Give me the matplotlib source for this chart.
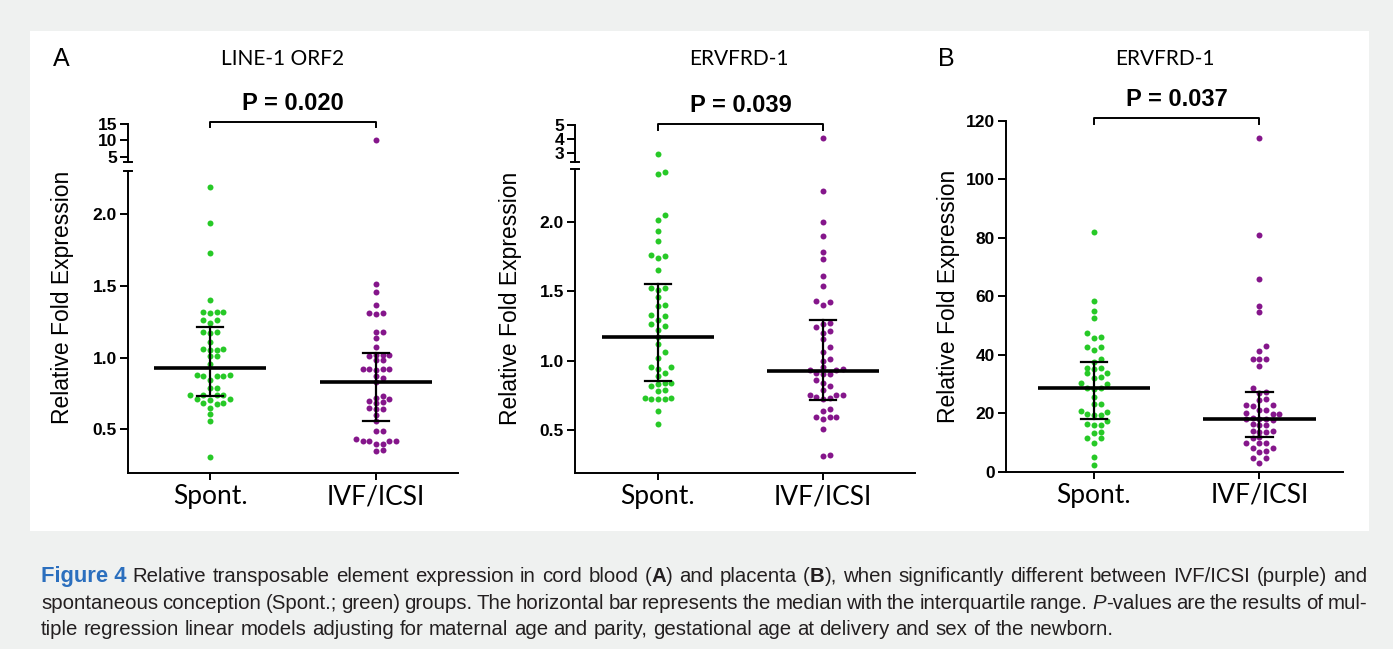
import matplotlib
matplotlib.use("Agg")
import matplotlib.pyplot as plt
from matplotlib.lines import Line2D
from matplotlib.patches import Rectangle
from matplotlib.transforms import blended_transform_factory

W, H, DPI = 1393, 649, 100

groups = ["Spont.", "IVF/ICSI"]

# --- A: cord blood, LINE-1 ORF2 ---
a1_spont = [2.19, 1.94, 1.725, 1.40, 1.32, 1.31, 1.32, 1.315, 1.26, 1.26, 1.24, 1.18, 1.18,
            1.17, 1.11, 1.06, 1.055, 1.06, 1.05, 1.01, 1.01, 0.955, 0.875, 0.87, 0.875, 0.87,
            0.87, 0.845, 0.785, 0.785, 0.74, 0.74, 0.74, 0.74, 0.71, 0.705, 0.71, 0.68, 0.675,
            0.68, 0.645, 0.605, 0.56, 0.31]
a1_ivf = [10.0, 1.515, 1.46, 1.366, 1.31, 1.30, 1.31, 1.18, 1.18, 1.136, 1.074, 1.02, 1.02,
          1.01, 1.02, 0.98, 0.98, 0.92, 0.92, 0.91, 0.92, 0.92, 0.87, 0.86, 0.83, 0.73, 0.72,
          0.71, 0.70, 0.69, 0.68, 0.65, 0.64, 0.64, 0.60, 0.555, 0.49, 0.49, 0.42, 0.42, 0.43,
          0.42, 0.42, 0.40, 0.40, 0.355, 0.35]
a1_median = [0.93, 0.83]
a1_q1 = [0.735, 0.555]
a1_q3 = [1.21, 1.03]

# --- A: cord blood, ERVFRD-1 ---
a2_spont = [2.95, 2.36, 2.34, 2.05, 2.01, 1.935, 1.86, 1.76, 1.74, 1.75, 1.65, 1.52, 1.51,
            1.52, 1.455, 1.40, 1.39, 1.33, 1.32, 1.29, 1.26, 1.25, 1.22, 1.17, 1.12, 1.06,
            1.02, 0.95, 0.94, 0.95, 0.91, 0.89, 0.84, 0.83, 0.82, 0.84, 0.79, 0.78, 0.72,
            0.73, 0.72, 0.73, 0.72, 0.635, 0.545]
a2_ivf = [4.1, 2.22, 2.00, 1.90, 1.78, 1.73, 1.61, 1.54, 1.42, 1.40, 1.43, 1.27, 1.26, 1.24,
          1.20, 1.21, 1.155, 1.10, 1.06, 1.01, 1.00, 0.955, 0.93, 0.93, 0.94, 0.90, 0.90,
          0.91, 0.86, 0.835, 0.82, 0.785, 0.75, 0.75, 0.74, 0.75, 0.73, 0.72, 0.65, 0.64,
          0.59, 0.59, 0.58, 0.59, 0.507, 0.31, 0.32]
a2_median = [1.17, 0.926]
a2_q1 = [0.849, 0.717]
a2_q3 = [1.549, 1.293]

# --- B: placenta, ERVFRD-1 ---
b_spont = [82.0, 58.5, 55.0, 52.5, 47.5, 46.2, 45.7, 42.8, 42.6, 41.7, 38.6, 37.6, 35.6,
           35.4, 35.0, 33.8, 33.6, 32.4, 32.2, 30.2, 29.9, 28.5, 28.5, 28.4, 25.7, 23.2,
           23.0, 20.6, 20.4, 19.5, 19.4, 19.6, 17.4, 16.1, 16.0, 16.2, 13.5, 13.3, 11.6,
           11.4, 9.9, 4.9, 2.3]
b_ivf = [114.0, 81.0, 66.0, 56.5, 54.5, 43.0, 41.2, 38.4, 38.5, 38.4, 36.0, 28.6, 27.1,
         27.0, 24.8, 24.6, 22.9, 22.8, 22.6, 21.2, 21.0, 19.8, 19.6, 19.9, 18.0, 17.8,
         18.1, 17.9, 18.2, 16.1, 16.0, 16.2, 13.8, 13.6, 13.7, 13.9, 11.7, 11.6, 9.8,
         9.7, 9.9, 8.1, 8.0, 7.0, 6.9, 4.7, 4.6, 3.0]
b_median = [28.5, 18.0]
b_q1 = [17.9, 12.0]
b_q3 = [37.6, 27.35]

p_values = ["P = 0.020", "P = 0.039", "P = 0.037"]
titles = ["LINE-1 ORF2", "ERVFRD-1", "ERVFRD-1"]

GREEN = "#27c927"
PURPLE = "#85168b"
COLORS = [GREEN, PURPLE]
SANS = "Liberation Sans"
CALI = "Lato"

fig = plt.figure(figsize=(W / DPI, H / DPI), dpi=DPI, facecolor="#eff1f0")
fig.add_artist(Rectangle((30 / W, 1 - 531 / H), 1339 / W, 500 / H,
                         transform=fig.transFigure, facecolor="white", edgecolor="none", zorder=0))


def px_box(x0, y0, x1, y1):
    return [x0 / W, 1 - y1 / H, (x1 - x0) / W, (y1 - y0) / H]


def new_axes(x0, y0, x1, y1, xlim, ylim, yticks, bottom=True):
    ax = fig.add_axes(px_box(x0, y0, x1, y1))
    ax.set_xlim(*xlim)
    ax.set_ylim(*ylim)
    ax.patch.set_visible(False)
    for s in ["top", "right"]:
        ax.spines[s].set_visible(False)
    for s in ["left", "bottom"]:
        ax.spines[s].set_linewidth(1.4)
    ax.set_yticks(yticks)
    ax.set_yticklabels([f"{t:g}" if t >= 3 else f"{t:.1f}" for t in yticks],
                       fontsize=12.5, fontweight="bold", family=SANS)
    ax.tick_params(axis="y", length=6, width=1.4, pad=2)
    if bottom:
        ax.set_xticks([0, 1])
        ax.set_xticklabels(groups, fontsize=19, family=CALI)
        ax.tick_params(axis="x", length=5, width=1.4, pad=3)
    else:
        ax.spines["bottom"].set_visible(False)
        ax.set_xticks([])
    return ax


def swarm(ax, center, vals, d=6.6):
    # greedy row-style packing: a dot moves sideways while it overlaps a placed one
    px_per_x = ax.transData.transform((1, 0))[0] - ax.transData.transform((0, 0))[0]
    placed, xs, ys = [], [], []
    for v in sorted(vals):
        ypx = ax.transData.transform((center, v))[1]
        cands = [0.0]
        for k in range(1, 12):
            cands += [k * d, -k * d]
        for off in cands:
            if all(abs(off - px) >= 0.95 * d or abs(ypx - py) >= 0.85 * d for px, py in placed):
                break
        placed.append((off, ypx))
        xs.append(center + off / px_per_x)
        ys.append(v)
    return xs, ys


def dots(ax, data, lo, hi):
    for i, vals in enumerate(data):
        sel = [v for v in vals if lo < v <= hi]
        if sel:
            xs, ys = swarm(ax, i, sel)
            ax.plot(xs, ys, "o", ms=4.3, color=COLORS[i], mec="none", zorder=2, clip_on=False)


def summary(ax, med, q1, q3):
    for i in range(2):
        ax.plot([i - 0.34, i + 0.34], [med[i]] * 2, color="black", lw=2.6,
                solid_capstyle="butt", zorder=4)
        ax.plot([i, i], [q1[i], q3[i]], color="black", lw=1.6, zorder=4)
        for q in (q1[i], q3[i]):
            ax.plot([i - 0.08, i + 0.08], [q, q], color="black", lw=1.6, zorder=4)


def bracket(ax, y_px, drop_px, text, text_y_px):
    tr = blended_transform_factory(ax.transData, fig.transFigure)
    yt, yb = 1 - y_px / H, 1 - (y_px + drop_px) / H
    ax.add_line(Line2D([0, 0, 1, 1], [yb, yt, yt, yb], transform=tr, color="black",
                       lw=1.4, clip_on=False))
    ax.text(0.5, 1 - text_y_px / H, text, transform=tr, ha="center", va="center",
            fontsize=17, fontweight="bold", family=SANS)


def break_bar(x_px, y_px, half=4):
    fig.add_artist(Line2D([(x_px - half) / W, (x_px + half) / W], [1 - y_px / H] * 2,
                          transform=fig.transFigure, color="black", lw=1.4))


def ylabel(x_px, y_px):
    fig.text(x_px / W, 1 - y_px / H, "Relative Fold Expression", rotation=90,
             ha="center", va="center", fontsize=16.5, family=SANS)


# ---- panel A, LINE-1 ORF2 (broken axis) ----
a1_lo = new_axes(128, 171, 458, 473, (-0.494, 1.494), (0.195, 2.30), [0.5, 1.0, 1.5, 2.0])
a1_up = new_axes(128, 124, 458, 162, (-0.494, 1.494), (3.38, 15), [5, 10, 15], bottom=False)
dots(a1_lo, [a1_spont, a1_ivf], 0, 2.30)
dots(a1_up, [a1_spont, a1_ivf], 2.30, 15)
summary(a1_lo, a1_median, a1_q1, a1_q3)
bracket(a1_up, 122, 5, p_values[0], 103)
break_bar(128, 162)
break_bar(128, 171)
ylabel(63, 297)

# ---- panel A, ERVFRD-1 (broken axis) ----
a2_lo = new_axes(575, 168.5, 915, 473, (-0.503, 1.558), (0.19, 2.383), [0.5, 1.0, 1.5, 2.0])
a2_up = new_axes(575, 125, 915, 161.7, (-0.503, 1.558), (2.41, 5.0), [3, 4, 5], bottom=False)
dots(a2_lo, [a2_spont, a2_ivf], 0, 2.383)
dots(a2_up, [a2_spont, a2_ivf], 2.383, 5)
summary(a2_lo, a2_median, a2_q1, a2_q3)
bracket(a2_up, 124, 6, p_values[1], 106)
break_bar(575, 161.7)
break_bar(575, 168.5)
ylabel(511, 298)

# ---- panel B, ERVFRD-1 placenta ----
b_ax = new_axes(1006, 120.7, 1343, 471.7, (-0.532, 1.506), (0, 120), [0, 20, 40, 60, 80, 100, 120])
b_ax.set_yticklabels([str(t) for t in [0, 20, 40, 60, 80, 100, 120]],
                     fontsize=12.5, fontweight="bold", family=SANS)
dots(b_ax, [b_spont, b_ivf], -1, 120)
summary(b_ax, b_median, b_q1, b_q3)
bracket(b_ax, 118.3, 5.7, p_values[2], 99.3)
ylabel(948, 296)

# titles and panel letters
for x_px, t in zip([283, 739, 1165], titles):
    fig.text(x_px / W, 1 - 59 / H, t, ha="center", va="center", fontsize=15, family=CALI)
fig.text(53 / W, 1 - 59 / H, "A", ha="left", va="center", fontsize=18, family=SANS)
fig.text(938 / W, 1 - 59 / H, "B", ha="left", va="center", fontsize=18, family=SANS)

# ---- caption (justified) ----
caption = [
    "#Figure~4# Relative transposable element expression in cord blood (*A*) and placenta (*B*), "
    "when significantly different between IVF/ICSI (purple) and",
    "spontaneous conception (Spont.; green) groups. The horizontal bar represents the median "
    "with the interquartile range. _P_-values are the results of mul-",
    "tiple regression linear models adjusting for maternal age and parity, gestational age "
    "at delivery and sex of the newborn.",
]
CAP_FONT = "Liberation Sans"
CAP_LEFT, CAP_RIGHT = 41, 1367
cap_y = [582, 609, 635]
renderer = fig.canvas.get_renderer()


def parse_word(word, fs):
    runs, buf = [], ""
    state = {"b": False, "i": False, "f": False}

    def flush():
        if buf:
            props = dict(family=CAP_FONT, fontsize=fs, color="#231f20")
            if state["b"]:
                props["fontweight"] = "bold"
            if state["i"]:
                props["style"] = "italic"
            if state["f"]:
                props.update(fontweight="bold", color="#2b6fbe", fontsize=fs * 1.08)
            runs.append((buf.replace("~", " "), props))

    for ch in word:
        if ch in "*_#":
            flush()
            buf = ""
            key = {"*": "b", "_": "i", "#": "f"}[ch]
            state[key] = not state[key]
        else:
            buf += ch
    flush()
    return runs


def make_words(line, fs, y_px):
    items = []
    for w in line.split(" "):
        texts = [fig.text(0, 1 - y_px / H, s, va="baseline", ha="left", **p)
                 for s, p in parse_word(w, fs)]
        items.append(texts)
    return items


def width(t):
    return t.get_window_extent(renderer).width


def space_width(fs):
    a = fig.text(0, 0, "a a", family=CAP_FONT, fontsize=fs)
    b = fig.text(0, 0, "aa", family=CAP_FONT, fontsize=fs)
    s = width(a) - width(b)
    a.remove()
    b.remove()
    return s


# fit the font size to the first line
probe = make_words(caption[0], 10, 0)
nat = sum(width(t) for ws in probe for t in ws) + space_width(10) * (len(probe) - 1)
for ws in probe:
    for t in ws:
        t.remove()
cap_fs = min(15.5, 10 * (CAP_RIGHT - CAP_LEFT) / nat * 0.99)
sp = space_width(cap_fs)

for n, (line, y_px) in enumerate(zip(caption, cap_y)):
    items = make_words(line, cap_fs, y_px)
    widths = [[width(t) for t in ws] for ws in items]
    total = sum(sum(w) for w in widths)
    gap = (CAP_RIGHT - CAP_LEFT - total) / (len(items) - 1) if n < 2 else sp
    x = CAP_LEFT
    for ws, wd in zip(items, widths):
        for t, w in zip(ws, wd):
            t.set_x(x / W)
            x += w
        x += gap

fig.savefig("out.png", dpi=DPI, facecolor=fig.get_facecolor())
